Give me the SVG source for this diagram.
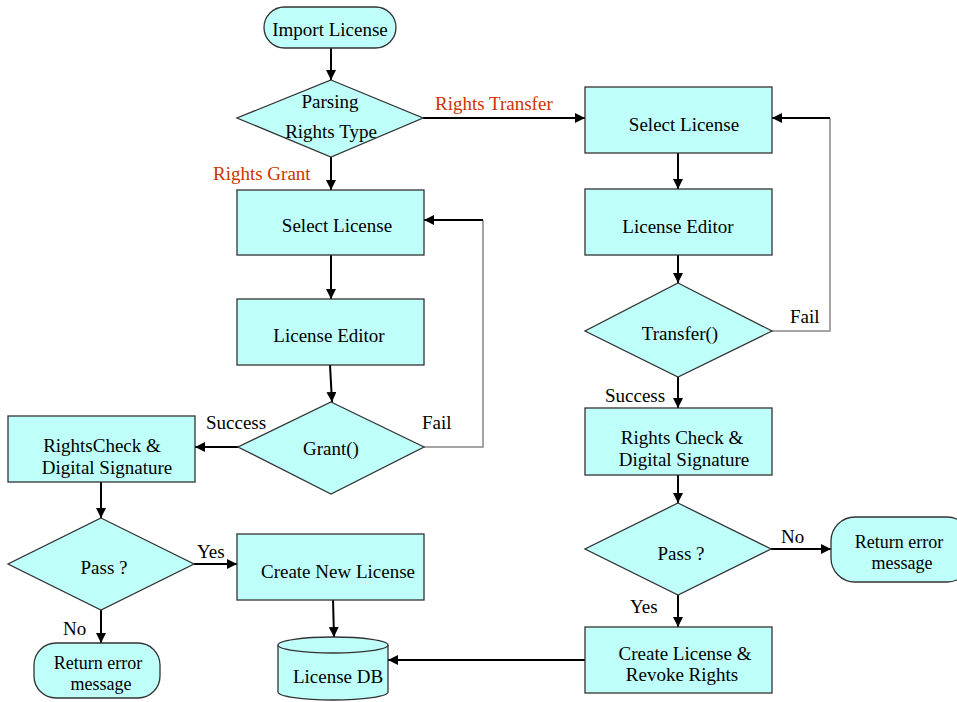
<svg xmlns="http://www.w3.org/2000/svg" width="957" height="702" viewBox="0 0 957 702">
  <defs>
    <marker id="arr" viewBox="0 0 10 10" refX="10" refY="5" markerWidth="5" markerHeight="5" orient="auto" markerUnits="strokeWidth">
      <path d="M0,0 L10,5 L0,10 Z" fill="#000"/>
    </marker>
  </defs>
  <style>
    .shape { fill: #bffffa; stroke: #333; stroke-width: 1.3; }
    .t { font-family: "Liberation Serif", "Times New Roman", serif; font-size: 19px; fill: #000; text-anchor: middle; }
    .tsm { font-size: 18px; }
    .lbl { font-family: "Liberation Serif", "Times New Roman", serif; font-size: 19px; fill: #000; }
    .red { fill: #cc3300; }
    .ln { fill: none; stroke: #000; stroke-width: 2; }
    .gray { fill: none; stroke: #888; stroke-width: 1.5; }
  </style>
  <rect width="957" height="702" fill="#fff"/>

  <!-- connectors -->
  <g id="connectors">
    <line class="ln" x1="331" y1="48" x2="331" y2="80" marker-end="url(#arr)"/>
    <line class="ln" x1="423" y1="118" x2="585" y2="118" marker-end="url(#arr)"/>
    <line class="ln" x1="331" y1="157" x2="331" y2="190" marker-end="url(#arr)"/>
    <line class="ln" x1="331" y1="255" x2="331" y2="299" marker-end="url(#arr)"/>
    <line class="ln" x1="330" y1="365" x2="332" y2="402" marker-end="url(#arr)"/>
    <polyline class="gray" points="424,447 483,447 483,220"/>
    <line class="ln" x1="483" y1="220" x2="424" y2="220" marker-end="url(#arr)"/>
    <line class="ln" x1="238" y1="447" x2="195" y2="447" marker-end="url(#arr)"/>
    <line class="ln" x1="101" y1="482" x2="101" y2="518" marker-end="url(#arr)"/>
    <line class="ln" x1="194" y1="564" x2="237" y2="564" marker-end="url(#arr)"/>
    <line class="ln" x1="101" y1="610" x2="101" y2="643" marker-end="url(#arr)"/>
    <line class="ln" x1="333" y1="599" x2="334" y2="637" marker-end="url(#arr)"/>
    <line class="ln" x1="585" y1="660" x2="388" y2="660" marker-end="url(#arr)"/>
    <line class="ln" x1="678" y1="153" x2="678" y2="189" marker-end="url(#arr)"/>
    <line class="ln" x1="678" y1="255" x2="678" y2="283" marker-end="url(#arr)"/>
    <polyline class="gray" points="772,331 830,331 830,118"/>
    <line class="ln" x1="830" y1="118" x2="772" y2="118" marker-end="url(#arr)"/>
    <line class="ln" x1="678" y1="377" x2="678" y2="408" marker-end="url(#arr)"/>
    <line class="ln" x1="678" y1="475" x2="678" y2="503" marker-end="url(#arr)"/>
    <line class="ln" x1="771" y1="549" x2="831" y2="549" marker-end="url(#arr)"/>
    <line class="ln" x1="678" y1="595" x2="678" y2="627" marker-end="url(#arr)"/>
  </g>

  <!-- edge labels -->
  <g id="edge-labels">
    <text class="lbl red" x="435" y="110">Rights Transfer</text>
    <text class="lbl red" x="213" y="180">Rights Grant</text>
    <text class="lbl" x="206" y="429">Success</text>
    <text class="lbl" x="422" y="429">Fail</text>
    <text class="lbl" x="197" y="558">Yes</text>
    <text class="lbl" x="63" y="635">No</text>
    <text class="lbl" x="790" y="323">Fail</text>
    <text class="lbl" x="605" y="402">Success</text>
    <text class="lbl" x="781" y="543">No</text>
    <text class="lbl" x="630" y="613">Yes</text>
  </g>

  <g id="import-license">
    <rect class="shape" x="264" y="7" width="132" height="41" rx="20.5"/>
    <text class="t" x="330" y="36">Import License</text>
  </g>
  <g id="parsing-rights-type">
    <polygon class="shape" points="331,80 423,118 331,157 237,118"/>
    <text class="t" x="330" y="108">Parsing</text>
    <text class="t" x="331" y="138">Rights Type</text>
  </g>

  <!-- grant branch -->
  <g id="grant-select-license">
    <rect class="shape" x="237" y="190" width="187" height="65"/>
    <text class="t" x="337" y="232">Select License</text>
  </g>
  <g id="grant-license-editor">
    <rect class="shape" x="237" y="299" width="187" height="66"/>
    <text class="t" x="329" y="342">License Editor</text>
  </g>
  <g id="grant-decision">
    <polygon class="shape" points="331,402 424,447 331,494 238,447"/>
    <text class="t" x="331" y="455">Grant()</text>
  </g>
  <g id="grant-rights-check">
    <rect class="shape" x="8" y="416" width="187" height="66"/>
    <text class="t" x="102" y="452">RightsCheck &amp;</text>
    <text class="t" x="107" y="474">Digital Signature</text>
  </g>
  <g id="grant-pass">
    <polygon class="shape" points="101,518 194,564 101,610 8,564"/>
    <text class="t" x="104" y="574">Pass ?</text>
  </g>
  <g id="create-new-license">
    <rect class="shape" x="237" y="534" width="187" height="66"/>
    <text class="t" x="338" y="578">Create New License</text>
  </g>
  <g id="grant-return-error">
    <rect class="shape" x="34" y="643" width="126" height="55" rx="22"/>
    <text class="t tsm" x="98" y="669">Return error</text>
    <text class="t tsm" x="101" y="690">message</text>
  </g>
  <g id="license-db">
    <path class="shape" d="M278,645 L278,692 A55,8 0 0 0 388,692 L388,645"/>
    <ellipse class="shape" cx="333" cy="645" rx="55" ry="8"/>
    <text class="t" x="338" y="683">License DB</text>
  </g>

  <!-- transfer branch -->
  <g id="transfer-select-license">
    <rect class="shape" x="585" y="87" width="187" height="66"/>
    <text class="t" x="684" y="131">Select License</text>
  </g>
  <g id="transfer-license-editor">
    <rect class="shape" x="585" y="189" width="187" height="66"/>
    <text class="t" x="678" y="233">License Editor</text>
  </g>
  <g id="transfer-decision">
    <polygon class="shape" points="678,283 772,331 678,377 585,331"/>
    <text class="t" x="680" y="340">Transfer()</text>
  </g>
  <g id="transfer-rights-check">
    <rect class="shape" x="585" y="408" width="187" height="67"/>
    <text class="t" x="682" y="444">Rights Check &amp;</text>
    <text class="t" x="684" y="466">Digital Signature</text>
  </g>
  <g id="transfer-pass">
    <polygon class="shape" points="678,503 771,549 678,595 585,549"/>
    <text class="t" x="681" y="560">Pass ?</text>
  </g>
  <g id="transfer-return-error">
    <rect class="shape" x="831" y="517" width="140" height="65" rx="24"/>
    <text class="t tsm" x="899" y="548">Return error</text>
    <text class="t tsm" x="902" y="569">message</text>
  </g>
  <g id="create-license-revoke">
    <rect class="shape" x="585" y="627" width="187" height="66"/>
    <text class="t" x="685" y="660">Create License &amp;</text>
    <text class="t" x="682" y="681">Revoke Rights</text>
  </g>
</svg>
